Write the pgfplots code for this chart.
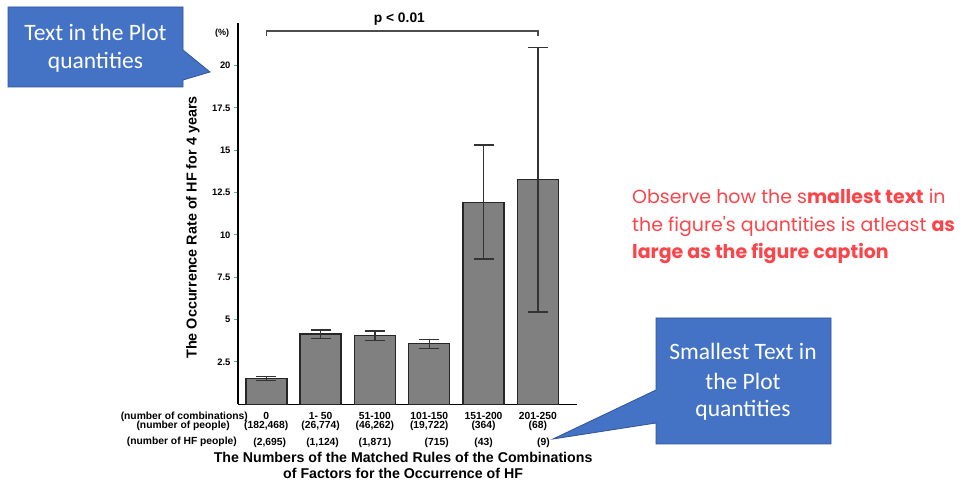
\documentclass[border=0pt]{standalone}
\usepackage{pgfplots}
\pgfplotsset{compat=1.18}
\usepackage{pgfplotstable}
\usepackage{fontspec}
\setmainfont{Liberation Sans}
\newfontfamily\calibri{Carlito}
\newfontfamily\poppins{Poppins}
\definecolor{callblue}{HTML}{4472C4}
\definecolor{callborder}{HTML}{2F5597}
\definecolor{tickteal}{HTML}{3CC4A0}
\definecolor{redtxt}{RGB}{250,70,75}
\definecolor{barfill}{HTML}{808080}
\pgfplotstableread{
x y ep em
0 1.52 0.12 0.12
1 4.15 0.24 0.27
2 4.07 0.26 0.30
3 3.58 0.24 0.28
4 11.93 3.39 3.35
5 13.29 7.78 7.84
}\datatable
\begin{document}
\begin{tikzpicture}[x=1pt,y=1pt]
\path[use as bounding box, fill=white] (0,0) rectangle (972,484);
% callout 1
\fill[callblue, draw=callborder, line width=0.8pt] (8,477) -- (183,477) -- (183,434) -- (210,412) -- (183,404) -- (183,397) -- (8,397) -- cycle;
\node[anchor=base, text=white, font=\calibri\fontsize{23.5}{28}\selectfont] at (95.5,443.3) {Text in the Plot};
\node[anchor=base, text=white, font=\calibri\fontsize{23.5}{28}\selectfont] at (95.5,415.7) {quantities};
% callout 2
\fill[callblue, draw=callborder, line width=0.8pt] (656,166) -- (831,166) -- (831,40) -- (656,40) -- (656,61) -- (553,45) -- (656,94) -- cycle;
\node[anchor=base, text=white, font=\calibri\fontsize{23.5}{28}\selectfont] at (743,124) {Smallest Text in};
\node[anchor=base, text=white, font=\calibri\fontsize{23.5}{28}\selectfont] at (743,94.7) {the Plot};
\node[anchor=base, text=white, font=\calibri\fontsize{23.5}{28}\selectfont] at (743,67.3) {quantities};
% red text
\node[anchor=base west, inner sep=0, text=redtxt, font=\poppins\fontsize{19}{22}\selectfont] at (632,280.5) {Observe how the s\textbf{mallest text} in};
\node[anchor=base west, inner sep=0, text=redtxt, font=\poppins\fontsize{19}{22}\selectfont] at (632,252.3) {the figure's quantities is atleast \textbf{as}};
\node[anchor=base west, inner sep=0, text=redtxt, font=\poppins\fontsize{19}{22}\selectfont] at (632,225) {\textbf{large as the figure caption}};
% (%)
\node[font=\bfseries\fontsize{9}{10}\selectfont] at (222,451) {(\%)};
% row labels
\node[anchor=base east, inner sep=0, font=\bfseries\fontsize{10.3}{11}\selectfont] at (248,64.5) {(number of combinations)};
\node[anchor=base east, inner sep=0, font=\bfseries\fontsize{10.3}{11}\selectfont] at (230,55) {(number of people)};
\node[anchor=base east, inner sep=0, font=\bfseries\fontsize{10.3}{11}\selectfont] at (237,39) {(number of HF people)};
\begin{axis}[
  at={(238pt,79.7pt)}, anchor=south west,
  scale only axis, width=339pt, height=381pt,
  xmin=-0.52, xmax=5.72, ymin=0, ymax=22.5,
  axis x line*=bottom, axis y line*=left,
  x axis line style={-, line width=1.5pt, black},
  y axis line style={-, line width=2pt, black},
  xtick=data,
  xticklabels={
    {0\\(182,468)\\[6.5pt]\hspace*{7pt}(2,695)},
    {1- 50\\(26,774)\\[6.5pt]\hspace*{4pt}(1,124)},
    {51-100\\(46,262)\\[6.5pt](1,871)},
    {101-150\\(19,722)\\[6.5pt]\hspace*{15pt}(715)},
    {151-200\\(364)\\[6.5pt](43)},
    {201-250\\(68)\\[6.5pt]\hspace*{11pt}(9)}},
  xticklabel style={align=center, anchor=north, font=\bfseries\fontsize{10.3}{9.5}\selectfont},
  x tick style={draw=none},
  ytick={2.5,5,7.5,10,12.5,15,17.5,20},
  yticklabels={2.5,5,7.5,10,12.5,15,17.5,20},
  yticklabel style={font=\bfseries\fontsize{9.4}{10}\selectfont},
  tick align=outside, major tick length=4pt,
  y tick style={tickteal, line width=1pt},
  ylabel={The Occurrence Rate of HF for 4 years},
  ylabel style={at={(axis description cs:-0.1327,0.464)}, anchor=center, font=\bfseries\fontsize{14.4}{16}\selectfont},
  xlabel={The Numbers of the Matched Rules of the Combinations\\of Factors for the Occurrence of HF},
  xlabel style={at={(axis description cs:0.487,-0.1606)}, anchor=center, align=center, font=\bfseries\fontsize{14.2}{15.5}\selectfont},
  clip=false,
]
\addplot[ybar, bar width=41pt, fill=barfill, draw=black!85, line width=1.5pt,
  error bars/.cd, y dir=both, y explicit,
  error bar style={line width=1.3pt, black!80},
  error mark options={rotate=90, mark size=10pt, line width=1.3pt, black!80}]
  table[x=x, y=y, y error plus=ep, y error minus=em] {\datatable};
\draw[black!70, line width=1.3pt] (axis cs:0,21.76) -- (axis cs:0,22.05) -- (axis cs:5,22.05) -- (axis cs:5,21.76);
\node[font=\bfseries\fontsize{13.8}{15}\selectfont] at (axis cs:2.45,22.75) {p < 0.01};
\end{axis}
\end{tikzpicture}
\end{document}
